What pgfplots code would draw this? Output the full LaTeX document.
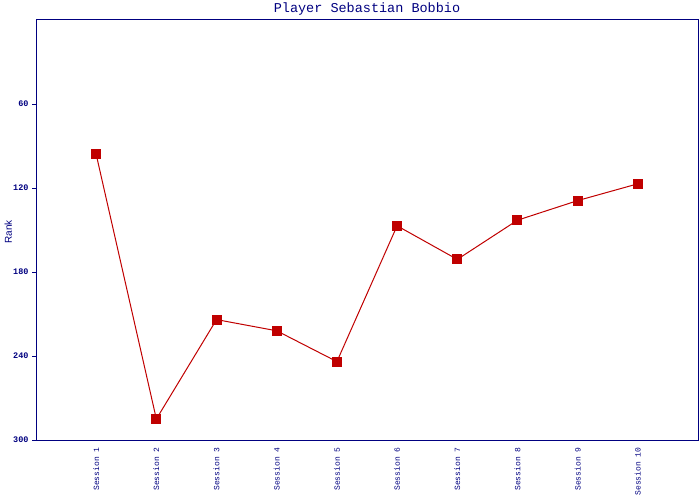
\documentclass[border=0pt]{standalone}
\usepackage{pgfplots}
\pgfplotsset{compat=1.18}
\usepackage{fontspec}
\setmainfont{Liberation Sans}
\newfontfamily\mono{Liberation Mono}
\definecolor{navy}{HTML}{000080}
\definecolor{linered}{HTML}{C00000}
\begin{document}
\begin{tikzpicture}
\path[use as bounding box] (0,0) rectangle (700pt,500pt);
\begin{axis}[
    at={(36pt,60pt)}, anchor=south west,
    scale only axis,
    width=662pt, height=420pt,
    xmin=0, xmax=11,
    ymin=0, ymax=300,
    y dir=reverse,
    axis line style={navy, line width=1pt},
    xtick={1,...,10},
    xticklabels={Session 1,Session 2,Session 3,Session 4,Session 5,Session 6,Session 7,Session 8,Session 9,Session 10},
    x tick label style={rotate=90, anchor=east, font=\mono\fontsize{8}{9}\selectfont, text=navy},
    xtick style={draw=none},
    ytick={60,120,180,240,300},
    y tick label style={font=\mono\bfseries\fontsize{8.5}{9}\selectfont, text=navy},
    ytick style={navy, line width=0.8pt},
    tick align=outside,
    major tick length=4pt,
    xtick pos=bottom, ytick pos=left,
    /pgf/number format/assume math mode=true,
    ylabel={Rank},
    ylabel style={font=\fontsize{10}{12}\selectfont, text=navy, at={(axis description cs:-0.042,0.495)}, anchor=center},
    title={Player Sebastian Bobbio},
    title style={font=\mono\fontsize{13.5}{15}\selectfont, text=navy, yshift=-5pt},
]
\addplot[linered, line width=1pt, mark=square*, mark size=4.5pt, mark options={fill=linered, draw=linered}]
  coordinates {(1,96)(2,285)(3,214)(4,222)(5,244)(6,147)(7,171)(8,143)(9,129)(10,117)};
\end{axis}
\end{tikzpicture}
\end{document}
